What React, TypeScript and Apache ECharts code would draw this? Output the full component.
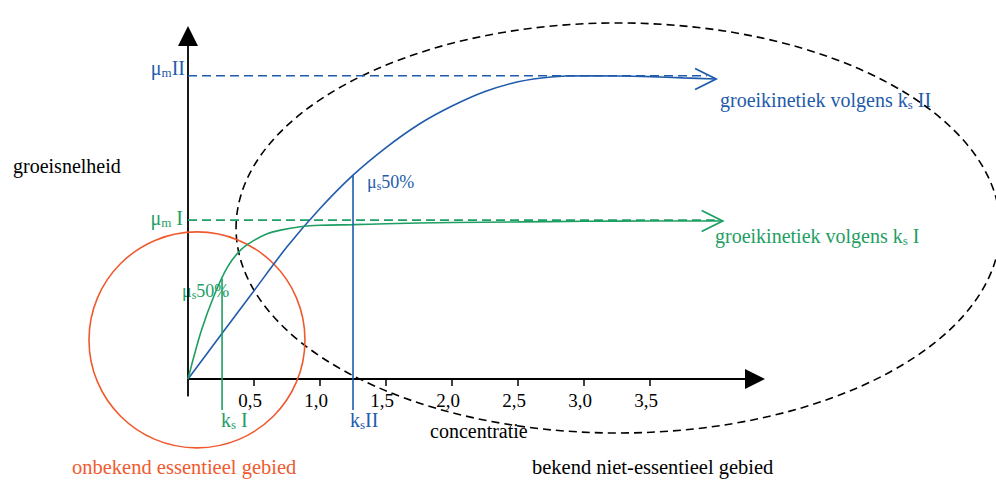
import React, { useEffect, useRef } from "react";
import * as echarts from "echarts";

// Concentration tick positions on the horizontal axis
const CONC_TICKS = [0.5, 1.0, 1.5, 2.0, 2.5, 3.0, 3.5];

// Growth kinetics following ks II (blue)
const KS2_CONC = [0, 0.25, 0.5, 0.75, 1.0, 1.25, 1.5, 1.75, 2.0, 2.25, 2.5, 2.75, 3.0, 3.25, 3.5, 3.75, 4.0];
const KS2_RATE = [0, 0.146, 0.291, 0.436, 0.562, 0.672, 0.763, 0.84, 0.9, 0.948, 0.98, 0.996, 1.0, 0.999, 0.997, 0.993, 0.989];

// Growth kinetics following ks I (green)
const KS1_CONC = [0, 0.1, 0.2, 0.3, 0.4, 0.5, 0.6, 0.7, 0.85, 1.0, 1.25, 1.5, 2.0, 2.5, 3.0, 3.5, 4.05];
const KS1_RATE = [0, 0.158, 0.278, 0.37, 0.426, 0.457, 0.479, 0.491, 0.502, 0.507, 0.509, 0.512, 0.516, 0.518, 0.52, 0.521, 0.521];

// Maximum growth rates and half-saturation points
const MU_MAX_II = 1.0;
const MU_MAX_I = 0.524;
const MU_LINE_END_II = 3.93;
const MU_LINE_END_I = 3.99;
const KS_II = 1.25;
const KS_I = 0.258;
const MU50_II = 0.672;
const MU50_I = 0.331;
const KS_LINE_BOTTOM = -0.102;

// Regions: [centre conc, centre rate, radius in conc, radius in rate]
const UNKNOWN_REGION = [0.068, 0.129, 0.818, 0.356];
const KNOWN_REGION = [3.258, 0.498, 2.894, 0.676];

const BLUE = "#1f5bab";
const GREEN = "#1e9e63";
const RED = "#ef5a2f";
const SERIF = "'Liberation Serif', 'Times New Roman', serif";

const zip = (xs: number[], ys: number[]) => xs.map((x, i) => [x, ys[i]]);

function richLabel(
  x: number,
  y: number,
  text: string,
  color: string,
  size: number,
  align: "left" | "right" = "left"
) {
  const sub = Math.round(size * 0.65);
  return {
    type: "text",
    x,
    y,
    silent: true,
    style: {
      text,
      fill: color,
      fontFamily: SERIF,
      fontSize: size,
      align,
      verticalAlign: "middle",
      rich: {
        n: { fill: color, fontFamily: SERIF, fontSize: size, lineHeight: size + 2 },
        s: { fill: color, fontFamily: SERIF, fontSize: sub, lineHeight: sub + 1, verticalAlign: "bottom" },
      },
    },
  };
}

export default function App() {
  const ref = useRef<HTMLDivElement>(null);

  useEffect(() => {
    if (!ref.current) return;
    const chart = echarts.init(ref.current, null, { renderer: "svg" });

    const regionSeries = (data: number[], color: string, dash: number[] | null) => ({
      type: "custom",
      clip: false,
      silent: true,
      z: 1,
      data: [data],
      encode: { x: 0, y: 1 },
      renderItem: (params: any, api: any) => {
        const c = api.coord([api.value(0), api.value(1)]);
        const s = api.size([api.value(2), api.value(3)]);
        return {
          type: "ellipse",
          shape: { cx: c[0], cy: c[1], rx: s[0], ry: s[1] },
          style: { fill: "none", stroke: color, lineWidth: 1.6, lineDash: dash || undefined },
        };
      },
    });

    const lineSeries = (data: number[][], color: string, opts: any = {}) => ({
      type: "line",
      data,
      showSymbol: false,
      symbol: "none",
      clip: false,
      silent: true,
      z: 3,
      lineStyle: { color, width: 1.6, ...(opts.lineStyle || {}) },
      smooth: opts.smooth || false,
    });

    const option: any = {
      animation: false,
      backgroundColor: "#ffffff",
      grid: { left: 188, right: 241, top: 36, bottom: 84.3, outerBoundsMode: "none" },
      xAxis: {
        type: "value",
        min: 0,
        max: 4.295,
        axisLine: {
          onZero: true,
          symbol: ["none", "triangle"],
          symbolSize: [20, 20],
          lineStyle: { color: "#000", width: 1.8 },
        },
        axisTick: {
          show: true,
          length: 7,
          customValues: CONC_TICKS,
          lineStyle: { color: "#000", width: 1.5 },
        },
        axisLabel: {
          customValues: CONC_TICKS,
          formatter: (v: number) => v.toFixed(1).replace(".", ","),
          fontFamily: SERIF,
          fontSize: 19,
          color: "#000",
          margin: -5,
          padding: [0, 8, 0, 0],
        },
        splitLine: { show: false },
      },
      yAxis: {
        type: "value",
        min: -0.055,
        max: 1.131,
        axisLine: {
          show: true,
          onZero: true,
          symbol: ["none", "triangle"],
          symbolSize: [20, 20],
          lineStyle: { color: "#000", width: 1.8 },
        },
        axisTick: { show: false },
        axisLabel: { show: false },
        splitLine: { show: false },
      },
      series: [
        regionSeries(KNOWN_REGION, "#000", [8, 5]),
        regionSeries(UNKNOWN_REGION, RED, null),
        lineSeries([[0, MU_MAX_II], [MU_LINE_END_II, MU_MAX_II]], BLUE, { lineStyle: { type: [9, 5] } }),
        lineSeries([[0, MU_MAX_I], [MU_LINE_END_I, MU_MAX_I]], GREEN, { lineStyle: { type: [9, 5] } }),
        lineSeries(zip(KS2_CONC, KS2_RATE), BLUE, { smooth: 0.3 }),
        lineSeries(zip(KS1_CONC, KS1_RATE), GREEN, { smooth: 0.3 }),
        lineSeries([[KS_II, MU50_II], [KS_II, KS_LINE_BOTTOM]], BLUE),
        lineSeries([[KS_I, MU50_I], [KS_I, KS_LINE_BOTTOM]], GREEN),
        {
          // open chevrons at the end of each kinetics curve
          type: "custom",
          clip: false,
          silent: true,
          z: 4,
          data: [
            { value: [KS2_CONC[KS2_CONC.length - 1], KS2_RATE[KS2_RATE.length - 1]], itemStyle: { color: BLUE } },
            { value: [KS1_CONC[KS1_CONC.length - 1], KS1_RATE[KS1_RATE.length - 1]], itemStyle: { color: GREEN } },
          ],
          encode: { x: 0, y: 1 },
          renderItem: (params: any, api: any) => {
            const p = api.coord([api.value(0), api.value(1)]);
            return {
              type: "polyline",
              shape: {
                points: [
                  [p[0] - 21, p[1] - 10.5],
                  [p[0], p[1]],
                  [p[0] - 21, p[1] + 10.5],
                ],
              },
              style: { fill: "none", stroke: api.visual("color"), lineWidth: 1.8 },
            };
          },
        },
      ],
      graphic: [
        richLabel(13, 166, "groeisnelheid", "#000", 20),
        richLabel(430, 431, "concentratie", "#000", 20),
        richLabel(185, 68, "{n|μ}{s|m}{n|II}", BLUE, 20, "right"),
        richLabel(183, 218, "{n|μ}{s|m}{n| I}", GREEN, 20, "right"),
        richLabel(367, 182, "{n|μ}{s|s}{n|50%}", BLUE, 18),
        richLabel(182, 291, "{n|μ}{s|s}{n|50%}", GREEN, 18),
        richLabel(221, 420, "{n|k}{s|s}{n| I}", GREEN, 20),
        richLabel(350, 420, "{n|k}{s|s}{n|II}", BLUE, 20),
        richLabel(720, 100, "{n|groeikinetiek volgens k}{s|s}{n| II}", BLUE, 20),
        richLabel(715, 236, "{n|groeikinetiek volgens k}{s|s}{n| I}", GREEN, 20),
        richLabel(72, 467, "onbekend essentieel gebied", RED, 20.5),
        richLabel(532, 467, "bekend niet-essentieel gebied", "#000", 20.5),
      ],
    };

    chart.setOption(option);
    return () => chart.dispose();
  }, []);

  return (
    <div
      ref={ref}
      style={{ position: "fixed", left: 0, top: 0, width: 996, height: 480, background: "#fff" }}
    />
  );
}
